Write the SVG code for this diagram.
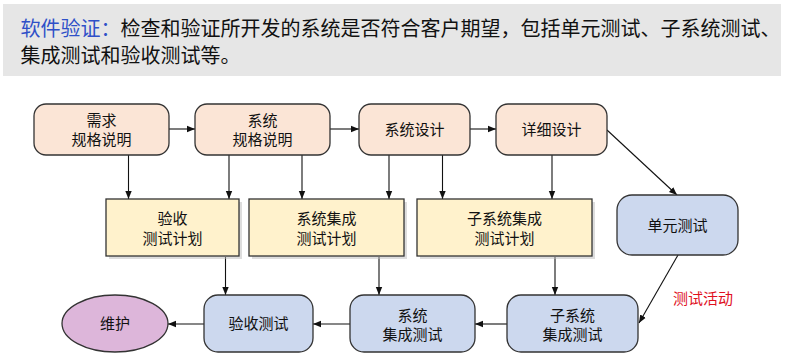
<svg xmlns="http://www.w3.org/2000/svg" width="796" height="357" viewBox="0 0 796 357">
<style>
text{font-family:"Noto Sans CJK SC","Noto Sans",sans-serif;fill:#111}
.t{font-size:15px;text-anchor:middle}
.h{font-size:20px}
.peach{fill:#FBE5D6;stroke:#333;stroke-width:1.3}
.yel{fill:#FFF2CC;stroke:#333;stroke-width:1.3}
.sh{fill:#bbb;opacity:0.5}
.blue{fill:#CCD8EE;stroke:#333;stroke-width:1.3}
.pur{fill:#DDB6DA;stroke:#333;stroke-width:1.3}
.c{fill:none;stroke:#111;stroke-width:1.1;marker-end:url(#a)}
</style>
<defs>
<marker id="a" markerUnits="userSpaceOnUse" markerWidth="8" markerHeight="8" viewBox="0 0 8 8" refX="8" refY="4" orient="auto">
<path d="M0,0.8 L8,4 L0,7.2 Z" fill="#111"/>
</marker>
</defs>
<rect x="3" y="4" width="778" height="72" fill="#E6E6E6"/>
<text class="h" x="20.5" y="35.5"><tspan fill="#2F50C8">软件验证：</tspan>检查和验证所开发的系统是否符合客户期望，包括单元测试、子系统测试、<tspan x="20.5" y="63">集成测试和验收测试等。</tspan></text>
<g id="connectors">
<line class="c" x1="169" y1="129" x2="195" y2="129"/>
<line class="c" x1="330" y1="129" x2="359" y2="129"/>
<line class="c" x1="470" y1="129" x2="496" y2="129"/>
<line class="c" x1="607" y1="130" x2="677" y2="195"/>
<line class="c" x1="128.5" y1="155" x2="128.5" y2="199"/>
<line class="c" x1="229" y1="155" x2="229" y2="199"/>
<line class="c" x1="302" y1="155" x2="302" y2="199"/>
<line class="c" x1="389" y1="155" x2="389" y2="199"/>
<line class="c" x1="442.5" y1="155" x2="442.5" y2="199"/>
<line class="c" x1="552" y1="155" x2="552" y2="199"/>
<line class="c" x1="225.5" y1="257" x2="225.5" y2="295"/>
<line class="c" x1="379" y1="257" x2="379" y2="295"/>
<line class="c" x1="555" y1="257" x2="555" y2="295"/>
<line class="c" x1="678" y1="255" x2="639" y2="323"/>
<line class="c" x1="507" y1="324" x2="475" y2="324"/>
<line class="c" x1="350" y1="324" x2="313" y2="324"/>
<line class="c" x1="204" y1="324" x2="168" y2="324"/>
</g>
<g id="req"><rect class="peach" x="34" y="104" width="135" height="51" rx="12"/><text class="t" x="101.5" y="126">需求</text><text class="t" x="101.5" y="145">规格说明</text></g>
<g id="sysreq"><rect class="peach" x="195" y="104" width="135" height="51" rx="12"/><text class="t" x="262.5" y="126">系统</text><text class="t" x="262.5" y="145">规格说明</text></g>
<g id="sysdes"><rect class="peach" x="359" y="104" width="111" height="51" rx="12"/><text class="t" x="414.5" y="134.5">系统设计</text></g>
<g id="detdes"><rect class="peach" x="496" y="104" width="111" height="51" rx="12"/><text class="t" x="551.5" y="134.5">详细设计</text></g>
<g id="unit"><rect class="blue" x="617" y="195" width="121" height="60" rx="15"/><text class="t" x="677.5" y="230.5">单元测试</text></g>
<g id="accplan"><rect class="sh" x="109" y="202" width="133" height="57"/><rect class="yel" x="106" y="199" width="133" height="57"/><text class="t" x="172.5" y="224">验收</text><text class="t" x="172.5" y="243.5">测试计划</text></g>
<g id="sysintplan"><rect class="sh" x="252" y="202" width="155" height="57"/><rect class="yel" x="249" y="199" width="155" height="57"/><text class="t" x="326.5" y="224">系统集成</text><text class="t" x="326.5" y="243.5">测试计划</text></g>
<g id="subplan"><rect class="sh" x="420" y="202" width="175" height="57"/><rect class="yel" x="417" y="199" width="175" height="57"/><text class="t" x="504.5" y="224">子系统集成</text><text class="t" x="504.5" y="243.5">测试计划</text></g>
<g id="maint"><ellipse class="pur" cx="115" cy="323.5" rx="53" ry="28.5"/><text class="t" x="115" y="329">维护</text></g>
<g id="acctest"><rect class="blue" x="204" y="295" width="109" height="57" rx="14"/><text class="t" x="258.5" y="329">验收测试</text></g>
<g id="sysint"><rect class="blue" x="350" y="295" width="125" height="57" rx="14"/><text class="t" x="412.5" y="321">系统</text><text class="t" x="412.5" y="340">集成测试</text></g>
<g id="subint"><rect class="blue" x="507" y="295" width="131" height="57" rx="14"/><text class="t" x="572.5" y="321">子系统</text><text class="t" x="572.5" y="340">集成测试</text></g>
<text x="673" y="303.5" style="font-size:15px;fill:#E0101E">测试活动</text>
</svg>
